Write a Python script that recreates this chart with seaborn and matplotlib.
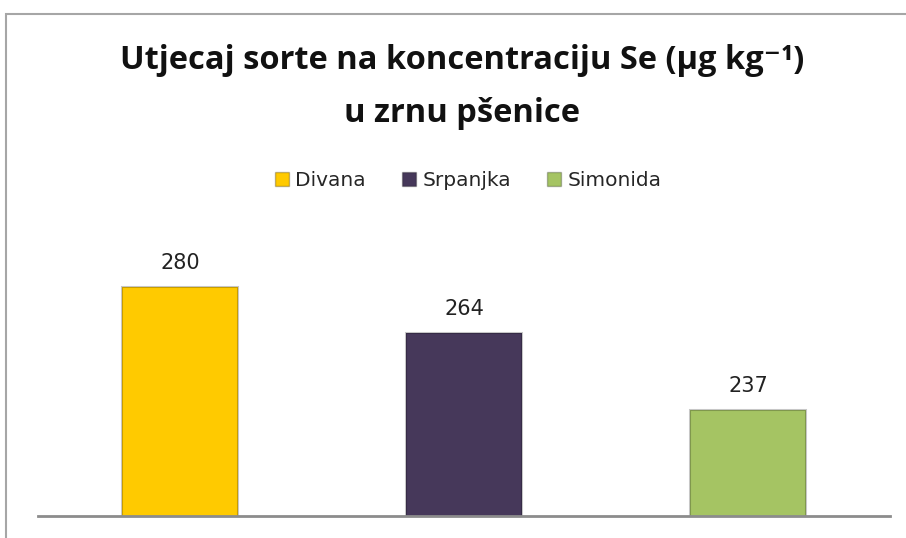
import matplotlib
matplotlib.use('Agg')
import matplotlib.pyplot as plt
import seaborn as sns
import pandas as pd
from matplotlib.patches import Rectangle, Patch

# podaci s grafikona
sorte = ['Divana', 'Srpanjka', 'Simonida']
koncentracija = [280, 264, 237]
boje = ['#FFCA00', '#46385A', '#A5C463']

df = pd.DataFrame({'sorta': sorte, 'se': koncentracija})

sns.set_theme(style='white')
plt.rcParams['font.family'] = ['Open Sans', 'DejaVu Sans']

fig = plt.figure(figsize=(9.06, 5.38), dpi=100)
ax = fig.add_axes([0.0419, 0.0409, 0.9404, 0.5316])

sns.barplot(data=df, x='sorta', y='se', hue='sorta', palette=boje, width=0.41,
            saturation=1, legend=False, ax=ax, edgecolor='#00000038', linewidth=1.5)

ax.set_ylim(200, 300)
ax.set_xlim(-0.5, 2.5)
for s in ['top', 'right', 'left']:
    ax.spines[s].set_visible(False)
ax.spines['bottom'].set_color('#8C8C8C')
ax.spines['bottom'].set_linewidth(2)
ax.set_xticks([])
ax.set_yticks([])
ax.set_xlabel('')
ax.set_ylabel('')

# oznake vrijednosti iznad stupaca
for cont in ax.containers:
    ax.bar_label(cont, fmt='%d', padding=10, fontsize=15, color='#222222',
                 family='DejaVu Sans')

# naslov
fig.text(0.51, 1 - 69 / 538, 'Utjecaj sorte na koncentraciju Se (µg kg⁻¹)',
         ha='center', va='baseline', fontsize=23.5, fontweight='bold', color='#111111')
fig.text(0.51, 1 - 122 / 538, 'u zrnu pšenice',
         ha='center', va='baseline', fontsize=23.5, fontweight='bold', color='#111111')

# legenda
ruke = [Patch(facecolor=b, edgecolor='#00000040', label=s) for s, b in zip(sorte, boje)]
fig.legend(handles=ruke, loc='center', bbox_to_anchor=(0.517, 1 - 181 / 538), ncol=3,
           frameon=False, prop={'family': 'DejaVu Sans', 'size': 14.5},
           handlelength=0.7, handleheight=0.7,
           handletextpad=0.3, columnspacing=1.8)

# okvir grafikona
fig.patches.append(Rectangle((6 / 906, -0.05), 1.0, 1 - 14 / 538 + 0.05,
                             transform=fig.transFigure, fill=False,
                             edgecolor='#A6A6A6', linewidth=1.5))

fig.savefig('out.png', dpi=100, facecolor='white')
